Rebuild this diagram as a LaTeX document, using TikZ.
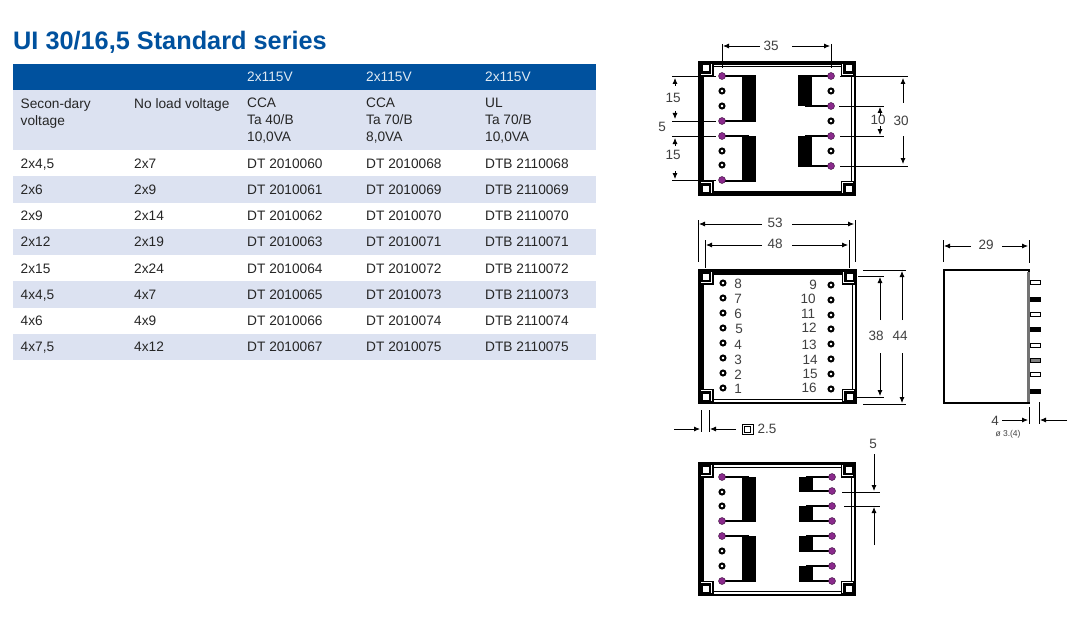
\documentclass[tikz,border=0pt]{standalone}
\usepackage{fontspec}
\setmainfont{Liberation Sans}
\usetikzlibrary{arrows.meta}
\definecolor{headblue}{HTML}{00519E}
\definecolor{rowtint}{HTML}{DCE2F1}
\definecolor{celltext}{HTML}{262626}
\definecolor{pinpurple}{HTML}{8A2A8C}
\tikzset{
  celltxt/.style={anchor=base west,inner sep=0,text=celltext,font=\fontsize{13.7}{17}\selectfont},
  headtxt/.style={celltxt,text=white!88!headblue},
  multitxt/.style={anchor=north west,inner sep=0,align=left,text=celltext,font=\fontsize{13.7}{17}\selectfont},
  dimtxt/.style={inner sep=0,text=black!75,font=\fontsize{13.5}{15}\selectfont},
  dimline/.style={-{Latex[length=6pt,width=5pt]},line width=0.8pt},
  extline/.style={line width=0.8pt},
  pinlive/.style={circle,fill=pinpurple,draw=black!60!pinpurple,line width=0.4pt,minimum size=7pt,inner sep=0},
  pinfree/.style={circle,fill=white,draw=black,line width=2pt,minimum size=5pt,inner sep=0}
}
\begin{document}
\begin{tikzpicture}[x=1pt,y=-1pt]
  \useasboundingbox (0,0) rectangle (1083,623);
  \fill[white] (0,0) rectangle (1083,623);

  \def\colB{134}
  \def\colC{247}
  \def\colD{366}
  \def\colE{485}

  \node[anchor=base west,inner sep=0,text=headblue,font=\fontsize{25.3}{28}\selectfont\bfseries] (title) at (13,50) {UI 30/16,5 Standard series};

  \fill[headblue] (13,64) rectangle (596,90);
  \fill[rowtint] (13,90) rectangle (596,150);
  \foreach \c [count=\i] in {\colC,\colD,\colE} {
    \node[headtxt] (head\i) at (\c,82) {2x115V};
  }
  \node[multitxt] (sec) at (20.5,98) {Secon-dary\\voltage};
  \node[multitxt] (noload) at (\colB,98) {No load voltage};
  \node[multitxt] (wireC) at (\colC,98) {CCA\\Ta 40/B\\10,0VA};
  \node[multitxt] (wireD) at (\colD,98) {CCA\\Ta 70/B\\8,0VA};
  \node[multitxt] (wireE) at (\colE,98) {UL\\Ta 70/B\\10,0VA};

  \def\rows{{2x4,5}/2x7/060/068/068,2x6/2x9/061/069/069,2x9/2x14/062/070/070,2x12/2x19/063/071/071,2x15/2x24/064/072/072,{4x4,5}/4x7/065/073/073,4x6/4x9/066/074/074,{4x7,5}/4x12/067/075/075}

  \foreach \a/\b/\c/\d/\e [count=\i] in \rows {
    \pgfmathsetmacro{\top}{150+(\i-1)*26.25}
    \pgfmathsetmacro{\base}{\top+18}
    \pgfmathtruncatemacro{\odd}{mod(\i,2)}
    \ifnum\odd=0
      \fill[rowtint] (13,\top) rectangle (596,\top+26.25);
    \fi
    \node[celltxt] (sec\i) at (20.5,\base) {\a};
    \node[celltxt] (load\i) at (\colB,\base) {\b};
    \node[celltxt] (c\i) at (\colC,\base) {DT 2010\c};
    \node[celltxt] (d\i) at (\colD,\base) {DT 2010\d};
    \node[celltxt] (e\i) at (\colE,\base) {DTB 2110\e};
  }

  % thick top and bottom edges first, the corner blocks go over them
  \fill (698,61) rectangle (856,65.5);
  \fill (698,192) rectangle (856,196);
  \fill (698,269) rectangle (857,273.5);

  \foreach \fx/\fy/\fw/\fh in {698/61/158/135,698/269/159/135,698/462/158/134} {
    \draw[line width=2.5pt] (\fx+1.25,\fy+1.25) rectangle (\fx+\fw-1.25,\fy+\fh-1.25);
    \draw[line width=0.8pt] (\fx+5,\fy+5) rectangle (\fx+\fw-5,\fy+\fh-5);
    \fill (\fx,\fy) rectangle (\fx+5,\fy+\fh);
    \foreach \sx/\sy in {0/0,1/0,0/1,1/1} {
      \begin{scope}[shift={(\fx+\sx*\fw,\fy+\sy*\fh)},xscale=1-2*\sx,yscale=1-2*\sy]
        \fill (0,0) rectangle (15.5,15.5);
        \draw[white,line width=1pt] (13.5,3) -- (13.5,13.5) -- (3,13.5);
        \fill[white] (4.5,4.5) rectangle (10.5,10.5);
      \end{scope}
    }
  }

  \foreach \px/\cx/\ct/\cb in {722/742/76/121,722/742/136/181,831/798/76/106,831/798/136/166,
    722/742/477/521,722/742/536/581,832/799/477/491,832/799/506/521,832/799/536/551,832/799/566/581} {
    \fill (\cx,\ct-0.5) rectangle (\cx+14,\cb+0.5);
    \draw[line width=1.2pt] (\px,\ct) -- (\cx+7,\ct) (\px,\cb) -- (\cx+7,\cb);
  }

  \foreach \y in {76,121,136,180} \node[pinlive] (topL\y) at (722,\y) {};
  \foreach \y in {91,106,151,165} \node[pinfree] (topL\y) at (722,\y) {};
  \foreach \y in {76,106,136,166} \node[pinlive] (topR\y) at (831,\y) {};
  \foreach \y in {91,121,151} \node[pinfree] (topR\y) at (831,\y) {};
  \foreach \y in {477,521,536,581} \node[pinlive] (botL\y) at (722,\y) {};
  \foreach \y in {492,506,551,566} \node[pinfree] (botL\y) at (722,\y) {};
  \foreach \y in {477,491,506,521,536,551,566,581} \node[pinlive] (botR\y) at (832,\y) {};

  \foreach \n/\y/\tx/\ty in {8/283/738/284,7/298/738/299,6/313/738/314,5/328/739/329,4/343/738/345,3/358/738/360,2/373/738/375,1/388/738/389} {
    \node[pinfree] (midL\n) at (723,\y) {};
    \node[dimtxt] (midtxt\n) at (\tx,\ty) {\n};
  }
  \foreach \n/\y/\tx/\ty in {9/285/813/285,10/300/808/299,11/315/808/314,12/329/809/328,13/344/809/345,14/359/810/360,15/374/810/374,16/389/809/388} {
    \node[pinfree] (midR\n) at (831,\y) {};
    \node[dimtxt] (midtxt\n) at (\tx,\ty) {\n};
  }

  \draw[line width=2.5pt] (944,270) rectangle (1029,403);
  \fill[black!55] (1027,272) rectangle (1030,402);
  \foreach \y/\c [count=\i] in {282/white,299.5/black,314.6/white,329/black,345/white,360/black!50,374.6/white,391/black} {
    \draw[line width=1pt,fill=\c] (1030,\y-2) rectangle (1040,\y+2);
  }

  \node[dimtxt] (d35) at (771,46) {35};
  \node[dimtxt] (d15a) at (673,98) {15};
  \node[dimtxt] (d5a) at (662,127) {5};
  \node[dimtxt] (d15b) at (673,155) {15};
  \node[dimtxt] (d10) at (878,120) {10};
  \node[dimtxt] (d30) at (901,121) {30};
  \node[dimtxt] (d53) at (775,223) {53};
  \node[dimtxt] (d48) at (775,244) {48};
  \node[dimtxt] (d38) at (876,336) {38};
  \node[dimtxt] (d44) at (900,336) {44};
  \node[dimtxt] (d25) at (767,429) {2.5};
  \node[dimtxt] (d29) at (986,245) {29};
  \node[dimtxt] (d4) at (995,421) {4};
  \node[dimtxt,font=\fontsize{8.5}{9}\selectfont] (dpin) at (1008,434) {ø 3.(4)};
  \node[dimtxt] (d5b) at (873,444) {5};
  \draw[line width=1pt,fill=white] (742,424) rectangle (753,434);
  \draw[line width=0.5pt] (744.5,426) rectangle (750.5,432);

  \foreach \ax/\ay/\bx/\by in {
    760/46/723/46, 792/46/830/46,
    675/86/675/78, 675/111/675/119, 675/146/675/138, 675/171/675/179,
    903/103/903/78, 903/136/903/164, 880/116/880/107, 880/126/880/135,
    762/224/699/224, 792/224/854/224, 762/245/706/245, 792/245/848/245,
    880/320/880/277, 880/353/880/396, 902/320/902/271, 902/353/902/403,
    674/429/700/429, 736/429/710/429,
    971/246/944/246, 1002/246/1028/246, 1002/420/1028/420, 1067/420/1040/420,
    874/454/874/491, 874/545/874/507} {
    \draw[dimline] (\ax,\ay) -- (\bx,\by);
  }

  \foreach \ax/\ay/\bx/\by in {
    722/44/722/68, 831/44/831/68,
    672/76/716/76, 672/121/716/121, 672/136/716/136, 672/180/716/180,
    840/76/908/76, 839/106/884/106, 840/136/884/136, 840/166/908/166,
    698/220/698/262, 855/220/855/262, 705/240/705/268, 849/240/849/268,
    863/270/906/270, 863/404/906/404, 858/276/884/276, 857/397/884/397,
    701/410/701/432, 709/410/709/432,
    943/240/943/262, 1029/240/1029/263, 1029/407/1029/424, 1039/402/1039/424,
    842/492/880/492, 844/506.5/880/506.5} {
    \draw[extline] (\ax,\ay) -- (\bx,\by);
  }
\end{tikzpicture}
\end{document}
